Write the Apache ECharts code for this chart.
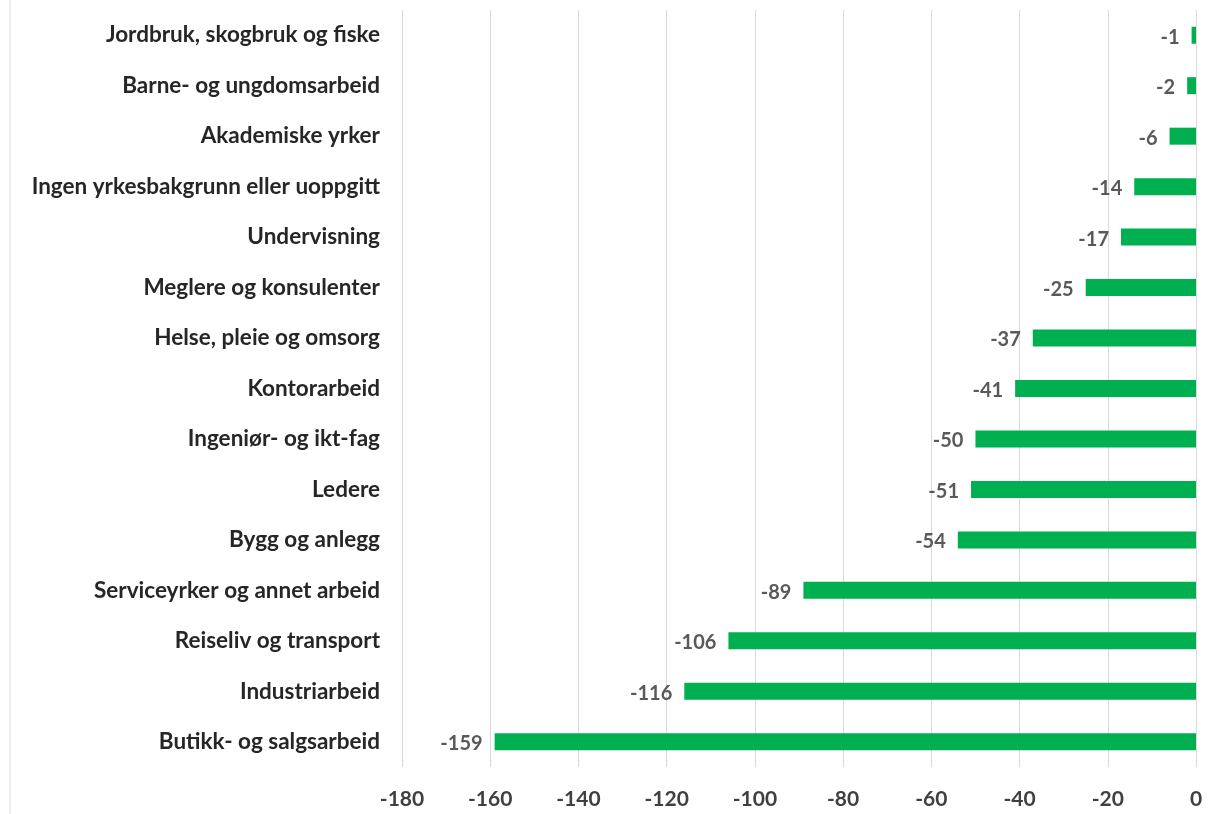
<!DOCTYPE html>
<html>
<head>
<meta charset="utf-8">
<script src="https://cdn.jsdelivr.net/npm/echarts@6/dist/echarts.min.js"></script>
<style>
  html, body { margin: 0; padding: 0; background: #fff; }
  #chart { width: 1218px; height: 814px; }
</style>
</head>
<body>
<div id="chart"></div>
<script>
  // yrkesgrupper, ovenfra og ned
  var categories = [
    'Jordbruk, skogbruk og fiske',
    'Barne- og ungdomsarbeid',
    'Akademiske yrker',
    'Ingen yrkesbakgrunn eller uoppgitt',
    'Undervisning',
    'Meglere og konsulenter',
    'Helse, pleie og omsorg',
    'Kontorarbeid',
    'Ingeniør- og ikt-fag',
    'Ledere',
    'Bygg og anlegg',
    'Serviceyrker og annet arbeid',
    'Reiseliv og transport',
    'Industriarbeid',
    'Butikk- og salgsarbeid'
  ];
  var values = [-1, -2, -6, -14, -17, -25, -37, -41, -50, -51, -54, -89, -106, -116, -159];
  var xTicks = [-180, -160, -140, -120, -100, -80, -60, -40, -20, 0];

  var chart = echarts.init(document.getElementById('chart'));
  chart.setOption({
    animation: false,
    textStyle: { fontFamily: 'Lato' },
    graphic: [
      // ramme til venstre
      { type: 'line', shape: { x1: 10, y1: 0, x2: 10, y2: 814 }, style: { stroke: '#d9d9d9', lineWidth: 1 } }
    ],
    grid: { left: 402, right: 22, top: 10, height: 757 },
    xAxis: {
      type: 'value',
      min: xTicks[0],
      max: xTicks[xTicks.length - 1],
      interval: 20,
      axisLine: { show: false },
      axisTick: { show: false },
      splitLine: { show: true, lineStyle: { color: '#d9d9d9', width: 1 } },
      axisLabel: { color: '#404040', fontWeight: 'bold', fontSize: 21, margin: 22 }
    },
    yAxis: {
      type: 'category',
      data: categories,
      inverse: true,
      axisLine: { show: false },
      axisTick: { show: false },
      axisLabel: { color: '#262626', fontWeight: 'bold', fontSize: 22.5, margin: 22 }
    },
    series: [{
      type: 'bar',
      data: values,
      barWidth: 17,
      itemStyle: { color: '#00b050' },
      label: {
        show: true,
        position: 'left',
        distance: 12,
        offset: [0, 2],
        color: '#595959',
        fontSize: 20,
        fontWeight: 'bold'
      }
    }]
  });
</script>
</body>
</html>
